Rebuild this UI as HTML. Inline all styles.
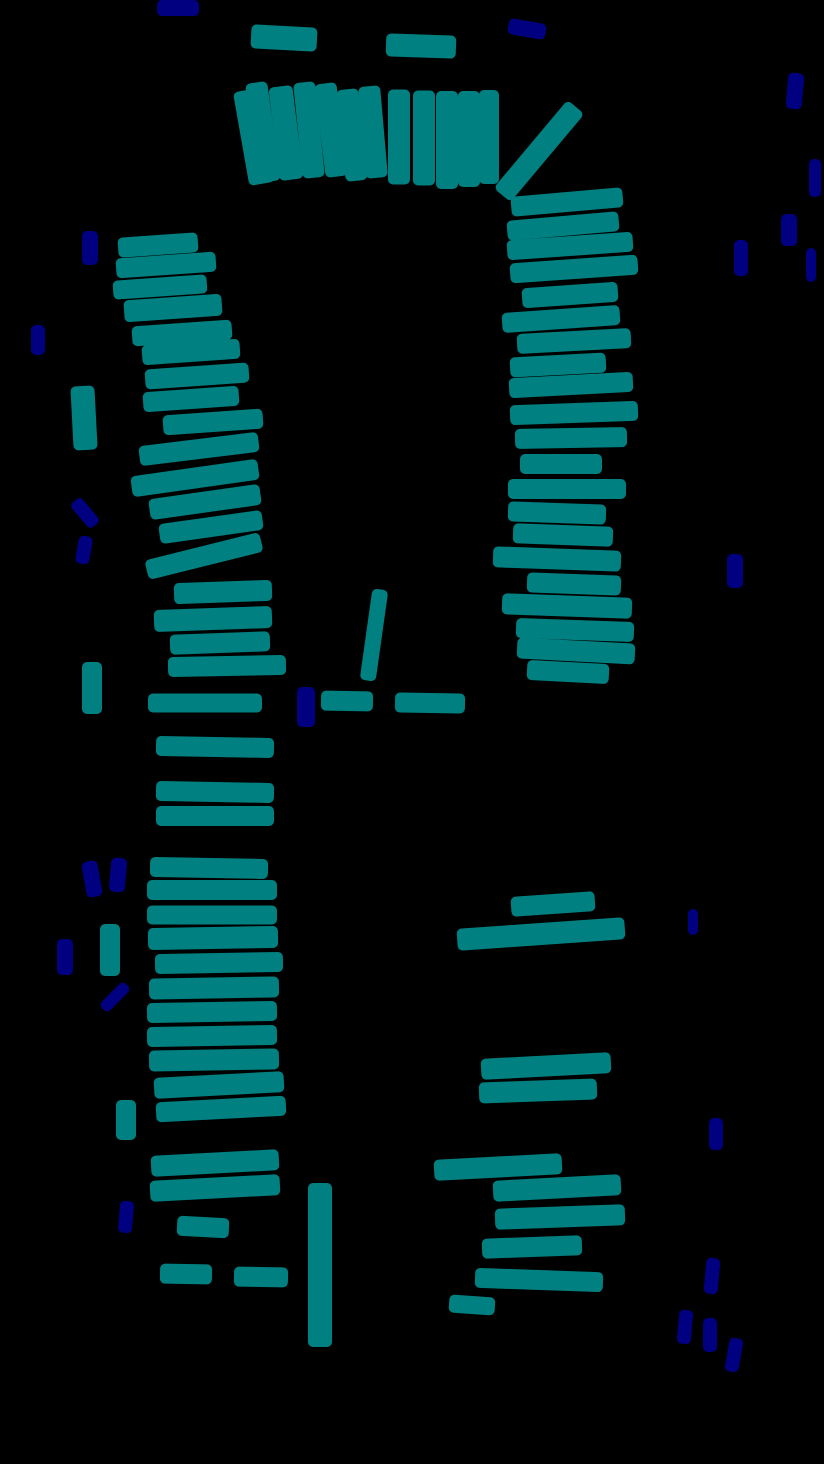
<!DOCTYPE html>
<html>
<head>
<meta charset="utf-8">
<style>
  html,body{margin:0;padding:0;background:#000;}
  svg{display:block;}
</style>
</head>
<body>
<svg id="mask" width="824" height="1464" viewBox="0 0 824 1464" xmlns="http://www.w3.org/2000/svg">
  <rect x="0" y="0" width="824" height="1464" fill="#000"/>
</svg>
<script>
// [cx, cy, w, h, angleDeg]
const tealShapes = [
  [284,38,66,24,3],[421,46,70,23,2],
  [254,137,26,95,-10],[263,132,22,100,-8],[286,133,24,94,-7],[309,130,22,96,-6],
  [331,130,22,94,-7],[352,135,22,92,-6],[373,132,22,92,-5],[399,137,22,95,0],
  [424,138,22,95,0],[447,140,22,98,0],[469,139,22,96,0],[489,137,20,94,0],
  [539,151,22,115,40],
  [158,245,80,20,-4],[166,265,100,20,-4],[160,287,94,19,-4],[173,308,98,22,-4],
  [182,333,100,20,-4],[191,352,98,20,-4],[197,376,104,20,-4],[191,399,96,20,-4],
  [213,422,100,20,-4],[199,449,120,20,-7],[195,478,128,21,-8],[205,502,112,21,-8],
  [211,527,104,20,-8],[204,556,118,20,-14],[223,592,98,21,-2],[213,619,118,22,-2],
  [220,643,100,20,-2],[227,666,118,20,-1],[205,703,114,19,0],[215,747,118,20,1],
  [215,792,118,20,1],[215,816,118,20,0],
  [209,868,118,20,1],[212,890,130,20,0],[212,915,130,19,0],[213,938,130,22,-1],
  [219,963,128,20,-1],[214,988,130,21,-1],[212,1012,130,20,-1],[212,1036,130,20,-1],
  [214,1060,130,21,-1],[219,1085,130,21,-3],[221,1109,130,20,-3],[215,1163,128,21,-3],
  [215,1188,130,21,-3],[203,1227,52,20,3],[186,1274,52,20,1],[261,1277,54,20,1],
  [374,635,16,92,8],[347,701,52,20,1],[430,703,70,20,1],[320,1265,24,164,0],
  [567,202,112,20,-5],[563,226,112,20,-5],[570,246,126,20,-4],[574,269,128,20,-4],
  [570,295,96,20,-4],[561,319,118,20,-4],[574,341,114,20,-3],[558,365,96,20,-3],
  [571,385,124,20,-3],[574,413,128,20,-2],[571,438,112,20,-1],[561,464,82,20,0],
  [567,489,118,20,0],[557,513,98,20,2],[563,535,100,20,2],[557,559,128,21,2],
  [574,584,94,20,2],[567,606,130,21,2],[575,630,118,20,2],[576,651,118,21,3],
  [568,672,82,20,3],
  [553,904,84,20,-4],[541,934,168,22,-4],[546,1066,130,21,-3],[538,1091,118,21,-2],
  [498,1167,128,21,-3],[557,1188,128,21,-3],[560,1217,130,21,-2],[532,1247,100,20,-2],
  [539,1280,128,20,2],[472,1305,46,18,4],
  [84,418,24,64,-3],[92,688,20,52,0],[110,950,20,52,0],[126,1120,20,40,0]
];
const navyShapes = [
  [178,8,42,16,0],[527,29,38,16,10],[795,91,16,36,5],[815,178,12,38,0],
  [789,230,16,32,0],[741,258,14,36,0],[811,265,10,34,0],[90,248,16,34,0],
  [38,340,14,30,0],[85,513,14,32,-40],[84,550,14,28,10],[735,571,16,34,0],
  [306,707,18,40,0],[92,879,16,36,-10],[118,875,16,34,5],[65,957,16,36,0],
  [115,997,12,34,45],[693,922,10,26,0],[716,1134,14,32,0],[126,1217,14,32,5],
  [712,1276,14,36,5],[685,1327,14,34,5],[710,1335,14,34,0],[734,1355,14,34,10]
];
const svg = document.getElementById('mask');
const NS = 'http://www.w3.org/2000/svg';
function draw(list, color, name) {
  list.forEach(function (s, i) {
    const r = document.createElementNS(NS, 'rect');
    r.setAttribute('x', s[0] - s[2] / 2);
    r.setAttribute('y', s[1] - s[3] / 2);
    r.setAttribute('width', s[2]);
    r.setAttribute('height', s[3]);
    r.setAttribute('rx', 5);
    r.setAttribute('fill', color);
    r.setAttribute('transform', 'rotate(' + s[4] + ' ' + s[0] + ' ' + s[1] + ')');
    
    
    svg.appendChild(r);
  });
}
draw(tealShapes, '#008080', 'teal-segment');
draw(navyShapes, '#000080', 'navy-segment');
</script>
</body>
</html>
